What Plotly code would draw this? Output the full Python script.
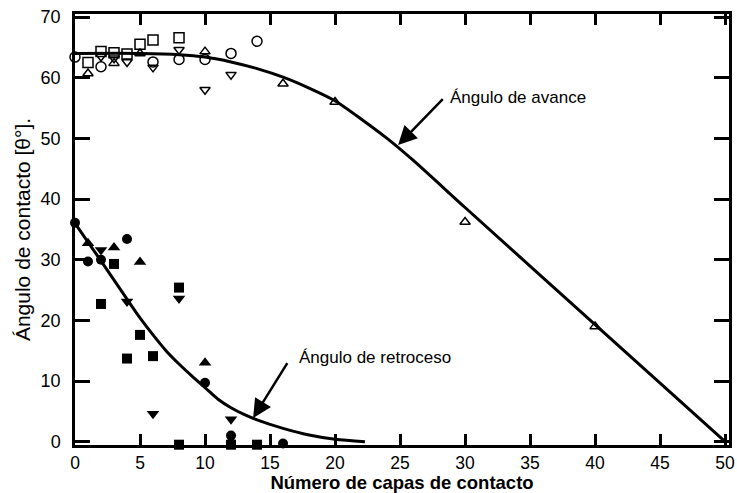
import plotly.graph_objects as go

# Advancing angle (open symbols)
adv_circle_x = [0, 2, 6, 8, 10, 12, 14]
adv_circle_y = [63.4, 61.8, 62.6, 63.0, 63.0, 64.0, 66.0]
adv_square_x = [1, 2, 3, 4, 5, 6, 8]
adv_square_y = [62.5, 64.3, 64.1, 63.9, 65.5, 66.2, 66.6]
adv_triup_x = [1, 3, 5, 10, 16, 20, 30, 40]
adv_triup_y = [60.7, 62.4, 64.0, 64.3, 59.0, 56.0, 36.2, 19.0]
adv_tridown_x = [2, 3, 4, 6, 8, 10, 12]
adv_tridown_y = [63.5, 63.2, 62.6, 61.7, 64.6, 58.0, 60.5]

# Receding angle (filled symbols)
rec_circle_x = [0, 1, 2, 4, 10, 12, 16]
rec_circle_y = [36.1, 29.7, 30.0, 33.4, 9.7, 1.0, -0.3]
rec_triup_x = [1, 3, 5, 10]
rec_triup_y = [32.7, 32.0, 29.6, 13.0]
rec_tridown_x = [2, 4, 8, 6, 12]
rec_tridown_y = [31.6, 23.1, 23.6, 4.6, 3.7]
rec_square_x = [2, 3, 4, 5, 6, 8, 8, 12, 14]
rec_square_y = [22.7, 29.3, 13.7, 17.6, 14.1, 25.4, -0.5, -0.5, -0.5]

# Fitted curves
adv_curve_x = [0, 5, 8, 10, 12, 14, 16, 18, 20, 22, 24, 26, 30, 40, 50]
adv_curve_y = [64.0, 64.0, 63.8, 63.4, 62.6, 61.5, 60.1, 58.3, 56.2, 53.2, 50.0, 46.4, 38.6, 19.3, 0.0]
rec_curve_x = [0, 2, 4, 5, 6, 7, 8, 9, 10, 11, 12, 13, 14, 16, 18, 20, 22.3]
rec_curve_y = [36.0, 29.8, 23.5, 20.4, 17.6, 15.0, 12.8, 10.8, 8.9, 7.0, 5.6, 4.5, 3.6, 2.2, 1.1, 0.4, 0.0]

x_ticks = [0, 5, 10, 15, 20, 25, 30, 35, 40, 45, 50]
y_ticks = [0, 10, 20, 30, 40, 50, 60, 70]

FONT = "Liberation Sans, Arial, sans-serif"
fig = go.Figure()

fig.add_trace(go.Scatter(x=adv_curve_x, y=adv_curve_y, mode="lines",
                         line=dict(color="black", width=3, shape="spline", smoothing=0.6)))
fig.add_trace(go.Scatter(x=rec_curve_x, y=rec_curve_y, mode="lines",
                         line=dict(color="black", width=3, shape="spline", smoothing=0.8)))

def pts(x, y, sym, size=10, lw=1.5):
    fig.add_trace(go.Scatter(x=x, y=y, mode="markers", cliponaxis=False,
                             marker=dict(symbol=sym, size=size, color="black",
                                         line=dict(color="black", width=lw))))

pts(adv_circle_x, adv_circle_y, "circle-open", 10)
pts(adv_square_x, adv_square_y, "square-open", 10)
pts(adv_triup_x, adv_triup_y, "triangle-up-open", 9)
pts(adv_tridown_x, adv_tridown_y, "triangle-down-open", 9)
pts(rec_circle_x, rec_circle_y, "circle", 10, 0)
pts(rec_square_x, rec_square_y, "square", 10, 0)
pts(rec_triup_x, rec_triup_y, "triangle-up", 11, 0)
pts(rec_tridown_x, rec_tridown_y, "triangle-down", 11, 0)

fig.add_annotation(x=24.85, y=48.9, ax=28.4, ay=56.7, xref="x", yref="y", axref="x", ayref="y",
                   text="", showarrow=True, arrowhead=2, arrowsize=1.5, arrowwidth=2.5, arrowcolor="black")
fig.add_annotation(x=28.7, y=56.7, xref="x", yref="y", text="Ángulo de avance", showarrow=False,
                   xanchor="left", yanchor="middle", font=dict(family=FONT, size=17, color="black"))
fig.add_annotation(x=13.7, y=3.9, ax=16.4, ay=13.2, xref="x", yref="y", axref="x", ayref="y",
                   text="", showarrow=True, arrowhead=2, arrowsize=1.5, arrowwidth=2.5, arrowcolor="black")
fig.add_annotation(x=17.1, y=13.8, xref="x", yref="y", text="Ángulo de retroceso", showarrow=False,
                   xanchor="left", yanchor="middle", font=dict(family=FONT, size=17, color="black"))

fig.update_layout(
    width=737, height=493,
    margin=dict(l=75, r=8, t=14, b=48),
    paper_bgcolor="white", plot_bgcolor="white",
    showlegend=False,
    font=dict(family=FONT, size=18, color="black"),
    xaxis=dict(range=[0, 50.3], tickvals=x_ticks, ticks="inside", ticklen=11, tickwidth=2.5,
               tickcolor="black", showline=True, linewidth=2.5, linecolor="black", mirror="ticks",
               showgrid=False, zeroline=False, ticklabelstandoff=0, automargin=False,
               tickfont=dict(family=FONT, size=17.5),
               title=dict(text="<b>Número de capas de contacto</b>", standoff=2,
                          font=dict(family=FONT, size=18.5))),
    yaxis=dict(range=[-0.55, 70.5], tickvals=y_ticks, ticks="inside", ticklen=15, tickwidth=2.5,
               tickcolor="black", showline=True, linewidth=2.5, linecolor="black", mirror="ticks",
               showgrid=False, zeroline=False, ticklabelstandoff=8, automargin=False,
               tickfont=dict(family=FONT, size=18),
               title=dict(text="Ángulo de contacto [θ°].", standoff=5,
                          font=dict(family=FONT, size=21))),
)

fig.write_html("out.html")
